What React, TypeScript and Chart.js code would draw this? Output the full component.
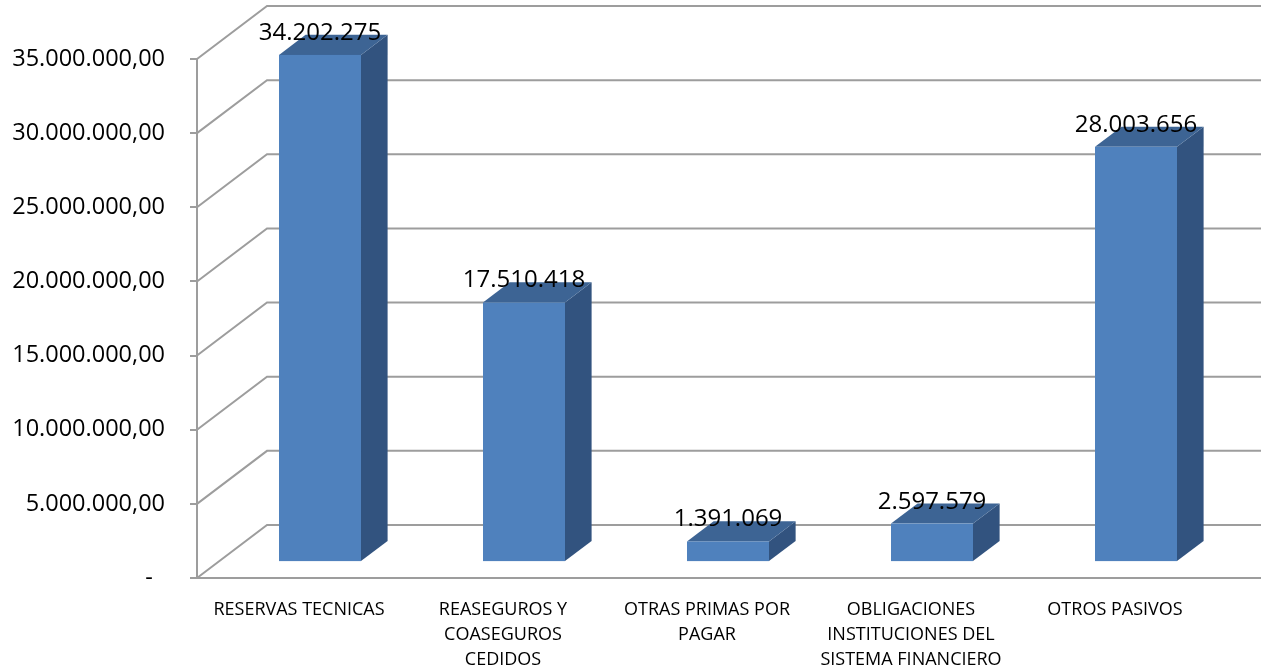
import React, { useEffect, useRef } from 'react';
import { Chart, registerables } from 'chart.js';

Chart.register(...registerables);

// ---- data ----
const categories: (string | string[])[] = [
  'RESERVAS TECNICAS',
  ['REASEGUROS Y', 'COASEGUROS', 'CEDIDOS'],
  ['OTRAS PRIMAS POR', 'PAGAR'],
  ['OBLIGACIONES', 'INSTITUCIONES DEL', 'SISTEMA FINANCIERO'],
  'OTROS PASIVOS',
];
const values = [34202275, 17510418, 1391069, 2597579, 28003656];
const yTicks = [0, 5000000, 10000000, 15000000, 20000000, 25000000, 30000000, 35000000];

// ---- style ----
const GRID = '#9d9d9d';
const FRONT = '#4F81BD';
const TOP = '#3D6494';
const SIDE = '#32537F';
const FONT = '"Open Sans", "DejaVu Sans", sans-serif';
const DEPTH_X = 70;
const DEPTH_Y = -53;
const BAR_FRONT = 0.3;
const BAR_BACK = 0.68;

const fmtInt = (n: number) => Math.round(n).toString().replace(/\B(?=(\d{3})+(?!\d))/g, '.');
const fmtTick = (n: number) => (n === 0 ? '-  ' : fmtInt(n) + ',00');

const threeD = {
  id: 'threeD',
  beforeDatasetsDraw(chart: any) {
    const { ctx, chartArea, scales } = chart;
    const y = scales.y;
    const W = chart.width;
    ctx.save();
    ctx.strokeStyle = GRID;
    ctx.lineWidth = 2;
    for (const v of yTicks) {
      const py = y.getPixelForValue(v);
      ctx.beginPath();
      ctx.moveTo(chartArea.left, py);
      ctx.lineTo(chartArea.left + DEPTH_X, py + DEPTH_Y);
      ctx.lineTo(W, py + DEPTH_Y);
      ctx.stroke();
    }
    const p0 = y.getPixelForValue(0);
    ctx.beginPath();
    ctx.moveTo(chartArea.left - 7, p0);
    ctx.lineTo(W, p0);
    ctx.stroke();
    ctx.restore();
  },
  afterDatasetsDraw(chart: any) {
    const { ctx } = chart;
    const meta = chart.getDatasetMeta(0);
    ctx.save();
    meta.data.forEach((bar: any, i: number) => {
      const { x, y, base, width } = bar.getProps(['x', 'y', 'base', 'width'], true);
      const fx0 = x - width / 2 + BAR_FRONT * DEPTH_X;
      const fx1 = x + width / 2 + BAR_FRONT * DEPTH_X;
      const fyT = y + BAR_FRONT * DEPTH_Y;
      const fyB = base + BAR_FRONT * DEPTH_Y;
      const dx = (BAR_BACK - BAR_FRONT) * DEPTH_X;
      const dy = (BAR_BACK - BAR_FRONT) * DEPTH_Y;
      // side
      ctx.fillStyle = SIDE;
      ctx.beginPath();
      ctx.moveTo(fx1, fyT);
      ctx.lineTo(fx1 + dx, fyT + dy);
      ctx.lineTo(fx1 + dx, fyB + dy);
      ctx.lineTo(fx1, fyB);
      ctx.closePath();
      ctx.fill();
      // top
      ctx.fillStyle = TOP;
      ctx.beginPath();
      ctx.moveTo(fx0, fyT);
      ctx.lineTo(fx0 + dx, fyT + dy);
      ctx.lineTo(fx1 + dx, fyT + dy);
      ctx.lineTo(fx1, fyT);
      ctx.closePath();
      ctx.fill();
      // front
      ctx.fillStyle = FRONT;
      ctx.fillRect(fx0, fyT, fx1 - fx0, fyB - fyT);
      // label
      ctx.fillStyle = '#000';
      ctx.font = `24px ${FONT}`;
      ctx.textAlign = 'center';
      ctx.textBaseline = 'alphabetic';
      ctx.fillText(fmtInt(values[i]), (fx0 + fx1) / 2, fyT - 15);
    });
    ctx.restore();
  },
};

export default function App() {
  const ref = useRef<HTMLCanvasElement | null>(null);
  useEffect(() => {
    if (!ref.current) return;
    const chart = new Chart(ref.current, {
      type: 'bar',
      data: {
        labels: categories as any,
        datasets: [
          {
            data: values,
            backgroundColor: 'rgba(0,0,0,0)',
            borderWidth: 0,
            categoryPercentage: 1,
            barPercentage: 0.402,
          },
        ],
      },
      options: {
        animation: false,
        responsive: false,
        events: [],
        layout: { padding: { left: 0, top: 59, right: 44, bottom: 0 } },
        plugins: { legend: { display: false }, tooltip: { enabled: false } },
        scales: {
          x: {
            grid: { display: false },
            border: { display: false },
            ticks: {
              color: '#000',
              font: { family: FONT, size: 18, lineHeight: '25px' as any },
              padding: 11,
              maxRotation: 0,
              autoSkip: false,
            },
            afterFit(scale: any) {
              scale.height = 92;
            },
          },
          y: {
            min: 0,
            max: 35000000,
            afterBuildTicks(scale: any) {
              scale.ticks = yTicks.map((v) => ({ value: v }));
            },
            grid: {
              drawOnChartArea: false,
              drawTicks: true,
              tickLength: 7,
              color: GRID,
              lineWidth: 2,
            },
            border: { display: true, color: GRID, width: 2 },
            ticks: {
              color: '#000',
              font: { family: FONT, size: 23.5 },
              padding: 25,
              callback: (v: any) => fmtTick(Number(v)),
            },
            afterFit(scale: any) {
              scale.width = 197;
            },
          },
        },
      },
      plugins: [threeD],
    });
    return () => chart.destroy();
  }, []);
  return (
    <div style={{ position: 'fixed', left: 0, top: 0, width: 1261, height: 670, background: '#fff' }}>
      <canvas ref={ref} width={1261} height={670} style={{ display: 'block' }} />
    </div>
  );
}
